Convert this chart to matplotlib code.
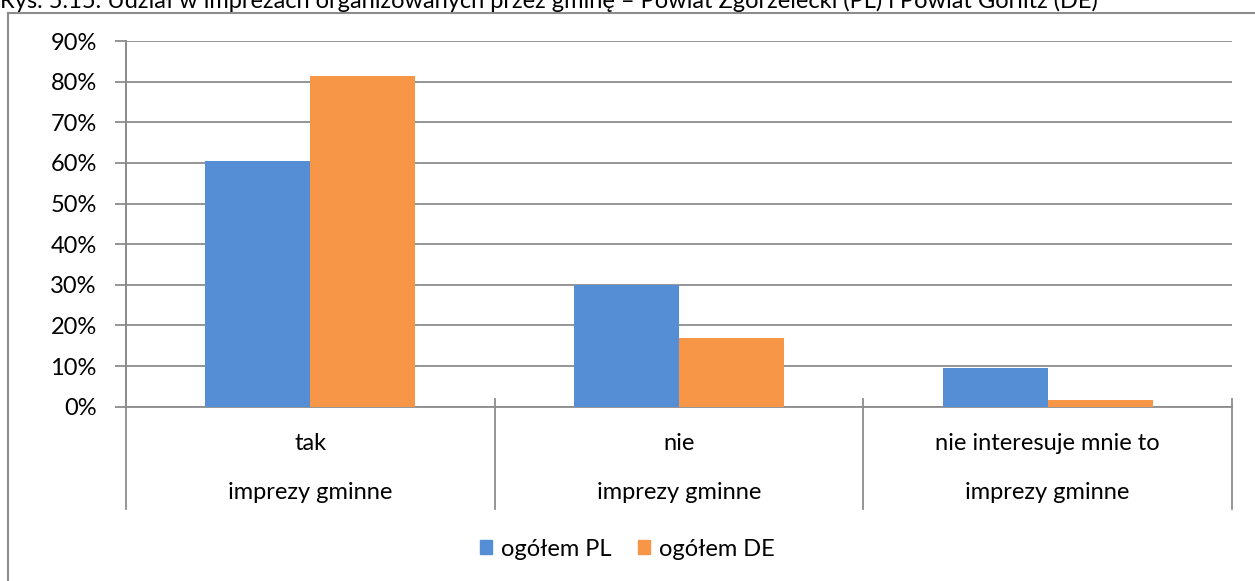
import numpy as np
import matplotlib.pyplot as plt
from matplotlib.lines import Line2D
from matplotlib.patches import Patch
from matplotlib.ticker import PercentFormatter

plt.rcParams['font.family'] = ['Lato', 'DejaVu Sans']

# Dane z wykresu
kategorie = ["tak", "nie", "nie interesuje mnie to"]
grupa = "imprezy gminne"
serie = ["ogółem PL", "ogółem DE"]
wartosci_pl = [60.4, 30.0, 9.5]
wartosci_de = [81.4, 17.0, 1.6]
tytul = "Rys. 5.15. Udział w imprezach organizowanych przez gminę – Powiat Zgorzelecki (PL) i Powiat Görlitz (DE)"

kolory = ["#558ED5", "#F79646"]
szary = "#8C8C8C"
fs = 17

W, H = 1255, 581
fig = plt.figure(figsize=(W / 100, H / 100), dpi=100)

# Obszar wykresu (w pikselach: lewo 126, prawo 1232, góra 41, dół 406.7)
x0, x1, y_top, y_bot = 126, 1232, 41, 406.7
ax = fig.add_axes([x0 / W, 1 - y_bot / H, (x1 - x0) / W, (y_bot - y_top) / H])

x = np.arange(len(kategorie))
szer = 0.285
ax.bar(x - szer / 2, wartosci_pl, szer, color=kolory[0], zorder=3)
ax.bar(x + szer / 2, wartosci_de, szer, color=kolory[1], zorder=3)

ax.set_xlim(-0.5, len(kategorie) - 0.5)
ax.set_ylim(0, 90)
ax.set_yticks(np.arange(0, 91, 10))
ax.yaxis.set_major_formatter(PercentFormatter(decimals=0))
ax.grid(axis="y", color=szary, linewidth=1.3, zorder=0)
ax.set_xticks([])
for s in ["top", "right"]:
    ax.spines[s].set_visible(False)
ax.spines["left"].set_color(szary)
ax.spines["left"].set_linewidth(1.3)
ax.spines["bottom"].set_color(szary)
ax.spines["bottom"].set_linewidth(1.3)
ax.tick_params(axis="y", length=8, width=1.3, color=szary, pad=13, labelsize=fs, labelcolor="black")

# Oś kategorii (dwupoziomowa)
y_dol = -(509 - y_bot) / (y_bot - y_top)
tr = ax.get_xaxis_transform()
for xb in np.arange(-0.5, len(kategorie)):
    ax.plot([xb, xb], [y_dol, 0.02 if xb > -0.5 else 1], color=szary, lw=1.3,
            transform=tr, clip_on=False, zorder=4)
for xi, k in zip(x, kategorie):
    ax.text(xi, -(444 - y_bot) / (y_bot - y_top), k, transform=tr, ha="center", va="center", fontsize=fs)
    ax.text(xi, -(493 - y_bot) / (y_bot - y_top), grupa, transform=tr, ha="center", va="center", fontsize=fs)

# Ramka wykresu
fig.add_artist(Line2D([8 / W, 8 / W], [0, 1 - 13 / H], color=szary, lw=1.5))
fig.add_artist(Line2D([8 / W, 1], [1 - 13 / H, 1 - 13 / H], color=szary, lw=1.5))

# Tytuł (obcięty u góry)
fig.text(0, 1 - 8 / H, tytul, ha="left", va="baseline", fontsize=fs)

# Legenda
uchwyty = [Patch(color=c) for c in kolory]
fig.legend(uchwyty, serie, loc="center", bbox_to_anchor=(0.5, 1 - 549 / H), ncol=2,
           frameon=False, fontsize=fs, handlelength=0.5, handleheight=0.5,
           handletextpad=0.4, columnspacing=1.1)

fig.savefig("out.png", dpi=100)
